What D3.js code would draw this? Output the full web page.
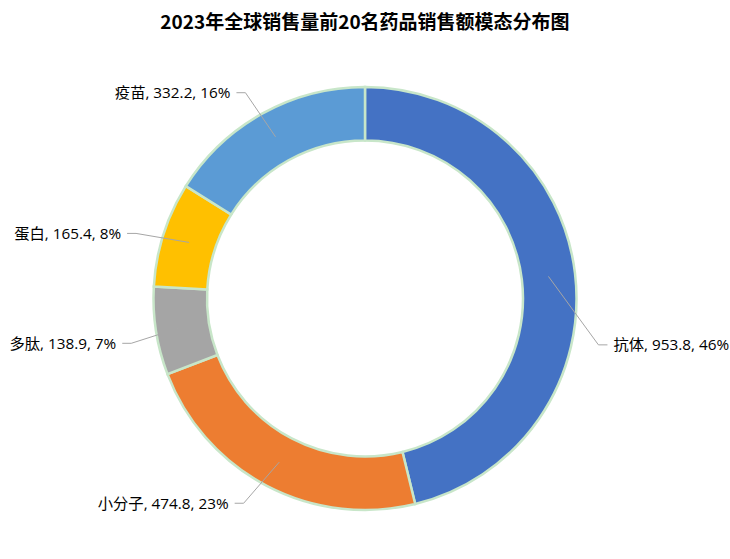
<!DOCTYPE html>
<html><head><meta charset="utf-8">
<script src="https://cdn.jsdelivr.net/npm/d3@7/dist/d3.min.js"></script>
<style>body{margin:0;background:#fff;}svg{display:block;}</style>
</head><body>
<script>
const categories = ["抗体", "小分子", "多肽", "蛋白", "疫苗"];
const values = [953.8, 474.8, 138.9, 165.4, 332.2];
const percentLabels = ["46%", "23%", "7%", "8%", "16%"];
const colors = ["#4472C4", "#ED7D31", "#A5A5A5", "#FFC000", "#5B9BD5"];
const title = "2023年全球销售量前20名药品销售额模态分布图";

// layout (label angle nudges in degrees, like the manually placed labels)
const labelNudge = [18.1, 3.0, -2.0, -1.8, -1.2];

const W = 730, H = 559, cx = 365, cy = 298.5, R = 211.5, r0 = 158;
const svg = d3.select("body").append("svg").attr("width", W).attr("height", H);
const font = "'Open Sans','Noto Sans CJK SC',sans-serif";

svg.append("text").attr("x", cx).attr("y", 29).attr("text-anchor", "middle")
  .attr("font-family", "'Noto Sans CJK SC',sans-serif").attr("font-weight", "bold").attr("font-size", 19)
  .attr("fill", "#000").text(title);

const data = categories.map((c, i) => ({c, v: values[i], p: percentLabels[i], col: colors[i], i}));
const pie = d3.pie().value(d => d.v).sort(null);
const arcs = pie(data);
const arc = d3.arc().innerRadius(r0).outerRadius(R);
const g = svg.append("g").attr("transform", `translate(${cx},${cy})`);

g.selectAll("path").data(arcs).join("path")
  .attr("d", arc).attr("fill", d => d.data.col)
  .attr("stroke", "#C8E6C9").attr("stroke-width", 2.5);

const mid = (R + r0) / 2;
const elbowR = 238;
arcs.forEach(a => {
  const m = (a.startAngle + a.endAngle) / 2;
  const cxp = mid * Math.sin(m), cyp = -mid * Math.cos(m);
  const la = m + labelNudge[a.data.i] * Math.PI / 180;
  const ex = elbowR * Math.sin(la), ey = -elbowR * Math.cos(la);
  const right = ex > 0;
  const tx = ex + (right ? 9 : -9);
  g.append("polyline").attr("points", `${cxp},${cyp} ${ex},${ey} ${tx},${ey}`)
    .attr("fill", "none").attr("stroke", "#A6A6A6").attr("stroke-width", 1);
  g.append("text").attr("x", tx + (right ? 6 : -6)).attr("y", ey)
    .attr("dy", "0.35em").attr("text-anchor", right ? "start" : "end")
    .attr("font-family", font).attr("font-size", 15.3).attr("fill", "#000")
    .text(`${a.data.c}, ${a.data.v}, ${a.data.p}`);
});
</script>
</body></html>
